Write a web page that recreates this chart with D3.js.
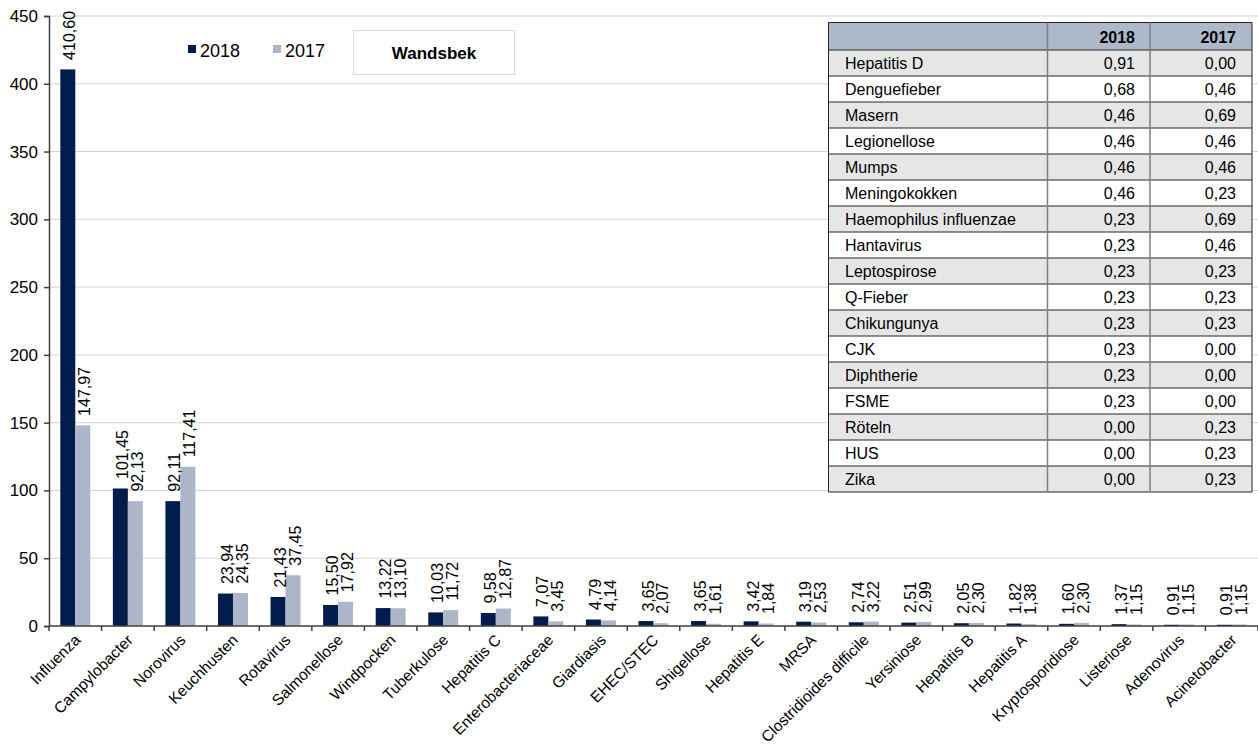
<!DOCTYPE html>
<html>
<head>
<meta charset="utf-8">
<script src="https://cdn.jsdelivr.net/npm/d3@7/dist/d3.min.js"></script>
<style>
  body { margin: 0; background: #fff; }
  svg text { font-family: Arial, "Liberation Sans", sans-serif; fill: #000; }
</style>
</head>
<body>
<svg id="chart" width="1258" height="749"></svg>
<script>
// Meldefälle je 100.000 Einwohner, Bezirk Wandsbek
const categories = ["Influenza", "Campylobacter", "Norovirus", "Keuchhusten", "Rotavirus", "Salmonellose",
  "Windpocken", "Tuberkulose", "Hepatitis C", "Enterobacteriaceae", "Giardiasis", "EHEC/STEC", "Shigellose",
  "Hepatitis E", "MRSA", "Clostridioides difficile", "Yersiniose", "Hepatitis B", "Hepatitis A",
  "Kryptosporidiose", "Listeriose", "Adenovirus", "Acinetobacter"];
const values2018 = [410.60, 101.45, 92.11, 23.94, 21.43, 15.50, 13.22, 10.03, 9.58, 7.07, 4.79, 3.65, 3.65,
  3.42, 3.19, 2.74, 2.51, 2.05, 1.82, 1.60, 1.37, 0.91, 0.91];
const values2017 = [147.97, 92.13, 117.41, 24.35, 37.45, 17.92, 13.10, 11.72, 12.87, 3.45, 4.14, 2.07, 1.61,
  1.84, 2.53, 3.22, 2.99, 2.30, 1.38, 2.30, 1.15, 1.15, 1.15];
const seriesNames = ["2018", "2017"];
const yTicks = [0, 50, 100, 150, 200, 250, 300, 350, 400, 450];

// Seltene Erkrankungen (Tabelle)
const tableNames = ["Hepatitis D", "Denguefieber", "Masern", "Legionellose", "Mumps", "Meningokokken",
  "Haemophilus influenzae", "Hantavirus", "Leptospirose", "Q-Fieber", "Chikungunya", "CJK", "Diphtherie",
  "FSME", "Röteln", "HUS", "Zika"];
const table2018 = [0.91, 0.68, 0.46, 0.46, 0.46, 0.46, 0.23, 0.23, 0.23, 0.23, 0.23, 0.23, 0.23, 0.23, 0.00, 0.00, 0.00];
const table2017 = [0.00, 0.46, 0.69, 0.46, 0.46, 0.23, 0.69, 0.46, 0.23, 0.23, 0.23, 0.00, 0.00, 0.00, 0.23, 0.23, 0.23];

const colors = { "2018": "#001c4c", "2017": "#adb6c8" };
const de = d3.formatLocale({ decimal: ",", thousands: ".", grouping: [3], currency: ["", " €"] });
const fmt = de.format(".2f");

const svg = d3.select("#chart");
const plotLeft = 49, plotRight = 1258, plotTop = 16, plotBottom = 626;

const x = d3.scaleBand().domain(categories).range([plotLeft, plotRight]).paddingInner(0.43).paddingOuter(0.215);
const xs = d3.scaleBand().domain(seriesNames).range([0, x.bandwidth()]);
const y = d3.scaleLinear().domain([0, 450]).range([plotBottom, plotTop]);

// Gitternetzlinien
svg.append("g").selectAll("line").data(yTicks.filter(t => t > 0)).join("line")
  .attr("x1", plotLeft).attr("x2", plotRight)
  .attr("y1", d => y(d)).attr("y2", d => y(d))
  .attr("stroke", "#d4d4d4").attr("stroke-width", 1);

// Balken
const rows = categories.map((c, i) => ({ cat: c, vals: [{ s: "2018", v: values2018[i] }, { s: "2017", v: values2017[i] }] }));
const groups = svg.append("g").selectAll("g").data(rows).join("g")
  .attr("transform", d => `translate(${x(d.cat)},0)`);
groups.selectAll("rect").data(d => d.vals).join("rect")
  .attr("x", d => xs(d.s)).attr("width", xs.bandwidth())
  .attr("y", d => y(d.v)).attr("height", d => y(0) - y(d.v))
  .attr("fill", d => colors[d.s]);

// Wertbeschriftungen
groups.selectAll("text").data(d => d.vals).join("text")
  .attr("transform", d => `translate(${xs(d.s) + xs.bandwidth() / 2 + 7.5},${y(d.v) - 9.5}) rotate(-90)`)
  .attr("font-size", 16)
  .text(d => fmt(d.v));

// y-Achse
const yAxis = svg.append("g").attr("transform", `translate(${plotLeft},0)`)
  .call(d3.axisLeft(y).tickValues(yTicks).tickSize(5).tickPadding(6).tickFormat(d3.format("d")));
yAxis.select(".domain").attr("stroke", "#3f3f3f").attr("stroke-width", 1.5);
yAxis.selectAll(".tick line").attr("stroke", "#3f3f3f").attr("stroke-width", 1.5);
yAxis.selectAll(".tick text").attr("font-size", 17).attr("font-family", "Arial, 'Liberation Sans', sans-serif").attr("fill", "#000");

// x-Achse mit Teilstrichen an den Kategoriegrenzen
const xg = svg.append("g");
xg.append("line").attr("x1", plotLeft).attr("x2", plotRight).attr("y1", plotBottom).attr("y2", plotBottom)
  .attr("stroke", "#3f3f3f").attr("stroke-width", 1.5);
const step = x.step();
xg.selectAll("line.tk").data(d3.range(categories.length + 1)).join("line").attr("class", "tk")
  .attr("x1", i => plotLeft + i * step).attr("x2", i => plotLeft + i * step)
  .attr("y1", plotBottom).attr("y2", plotBottom + 5)
  .attr("stroke", "#3f3f3f").attr("stroke-width", 1.5);
xg.selectAll("text").data(categories).join("text")
  .attr("transform", d => `translate(${x(d) + x.bandwidth() / 2 + 6},${plotBottom + 15}) rotate(-45)`)
  .attr("text-anchor", "end")
  .attr("font-size", 15.5)
  .text(d => d);

// Legende
const legend = svg.append("g");
[["2018", 188, 200], ["2017", 273, 285]].forEach(([s, sx, tx]) => {
  legend.append("rect").attr("x", sx).attr("y", 45).attr("width", 8).attr("height", 8).attr("fill", colors[s]);
  legend.append("text").attr("x", tx).attr("y", 56.5).attr("font-size", 18).text(s);
});

// Titelfeld
svg.append("rect").attr("x", 353.5).attr("y", 30.5).attr("width", 161).attr("height", 44)
  .attr("fill", "#fff").attr("stroke", "#d9d9d9").attr("stroke-width", 1);
svg.append("text").attr("x", 434).attr("y", 59).attr("text-anchor", "middle")
  .attr("font-size", 17).attr("font-weight", "bold").text("Wandsbek");

// Tabelle
const tx0 = 828.5, tx1 = 1047.5, tx2 = 1150, tx3 = 1252;
const headTop = 22.5, headBot = 50, rowH = 26;
const tbl = svg.append("g");
tbl.append("rect").attr("x", tx0).attr("y", headTop).attr("width", tx3 - tx0).attr("height", headBot - headTop)
  .attr("fill", "#adb9ca");
const trows = tableNames.map((n, i) => ({ n, a: table2018[i], b: table2017[i], i }));
tbl.selectAll("rect.row").data(trows).join("rect").attr("class", "row")
  .attr("x", tx0).attr("y", d => headBot + d.i * rowH).attr("width", tx3 - tx0).attr("height", rowH)
  .attr("fill", d => d.i % 2 === 0 ? "#e6e6e6" : "#ffffff");
// horizontale Linien
const hLines = d3.range(tableNames.length + 2).map(k => k === 0 ? headTop : headBot + (k - 1) * rowH);
tbl.selectAll("line.h").data(hLines).join("line").attr("class", "h")
  .attr("x1", tx0).attr("x2", tx3).attr("y1", d => d).attr("y2", d => d)
  .attr("stroke", "#262626").attr("stroke-width", 1);
// vertikale Linien
const tblBottom = headBot + tableNames.length * rowH;
tbl.selectAll("line.v").data([tx0, tx1, tx2, tx3]).join("line").attr("class", "v")
  .attr("x1", d => d).attr("x2", d => d).attr("y1", headTop).attr("y2", tblBottom)
  .attr("stroke", (d, i) => (i === 0 || i === 3) ? "#262626" : "#7f7f7f").attr("stroke-width", (d, i) => (i === 0 || i === 3) ? 1 : 1.5);
tbl.append("text").attr("x", 1135).attr("y", headTop + 20).attr("text-anchor", "end")
  .attr("font-size", 16).attr("font-weight", "bold").text(seriesNames[0]);
tbl.append("text").attr("x", 1236).attr("y", headTop + 20).attr("text-anchor", "end")
  .attr("font-size", 16).attr("font-weight", "bold").text(seriesNames[1]);
const tr = tbl.selectAll("g.tr").data(trows).join("g").attr("class", "tr")
  .attr("transform", d => `translate(0,${headBot + d.i * rowH + 18.5})`);
tr.append("text").attr("x", 845).attr("font-size", 16).text(d => d.n);
tr.append("text").attr("x", 1135).attr("text-anchor", "end").attr("font-size", 16).text(d => fmt(d.a));
tr.append("text").attr("x", 1236).attr("text-anchor", "end").attr("font-size", 16).text(d => fmt(d.b));
</script>
</body>
</html>
